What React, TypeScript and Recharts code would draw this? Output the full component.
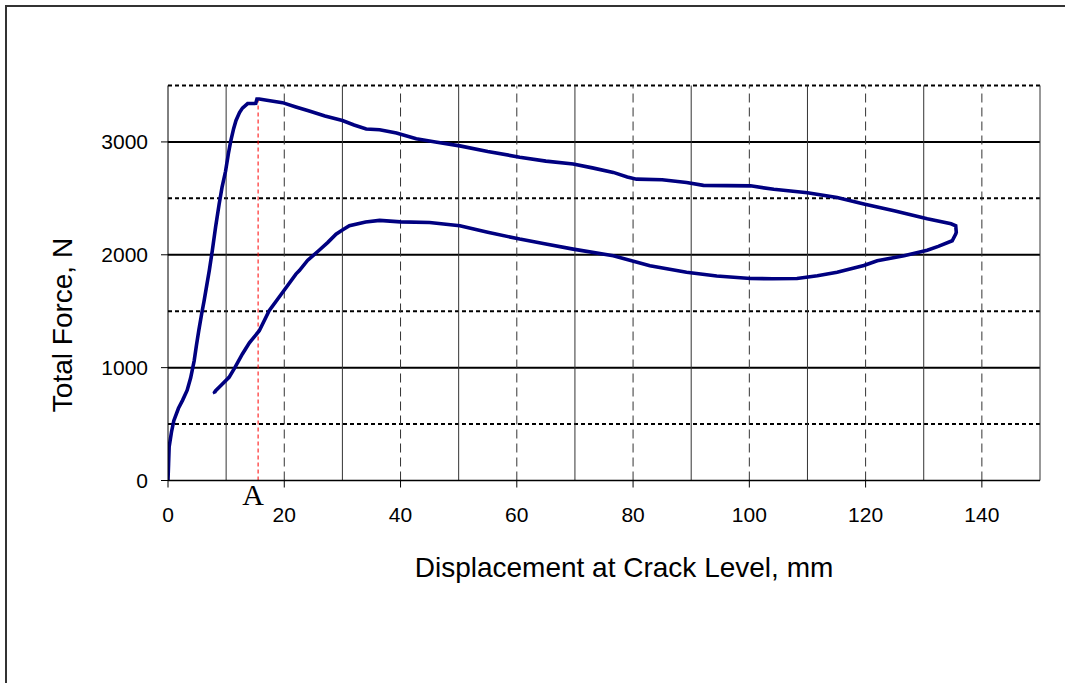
import { LineChart, Line, XAxis, YAxis, ReferenceLine } from 'recharts';

// displacement at crack level (mm) and total force (N), in drawing order (loading, then return branch)
const displacement = [
  0, 0.1, 0.2, 0.6, 1, 1.8, 2.5, 3.3, 3.9, 4.5, 4.9, 5.3, 5.8, 6.2, 6.7, 7.1, 7.6, 8.2, 8.8, 9.3,
  9.9, 10.4, 10.8, 11.3, 11.7, 12.3, 12.8, 13.7, 15.1, 15.3, 15.7, 17, 19.7, 22, 24.3, 27, 30, 32,
  34.1, 36.4, 39.3, 42.7, 46, 50.2, 55, 60.5, 65, 69.7, 73, 76.6, 79, 80.6, 85, 89.2, 92.1, 100.2,
  104.2, 110, 115.1, 119.7, 124.9, 130.6, 134.7, 135.5, 135.6, 135.5, 134.9, 132.5, 130.6, 126.6,
  122, 119.7, 115.1, 111.7, 108.2, 104, 100.2, 94.4, 89.2, 82.9, 76.6, 69.7, 65, 60.5, 55, 50.2,
  45, 40, 36.4, 34, 31.2, 30, 28.9, 27.5, 26, 24, 22.6, 22, 19.7, 17.4, 15.7, 14, 12.8, 11.5, 10.5,
  9.1, 8.2, 8, 8.1,
];
const force = [
  0, 150, 300, 430, 530, 640, 710, 800, 910, 1060, 1200, 1330, 1480, 1590, 1740, 1860, 2030, 2250, 2450, 2600,
  2740, 2900, 3010, 3120, 3190, 3260, 3300, 3340, 3342, 3380, 3380, 3370, 3348, 3310, 3274, 3230, 3190, 3150,
  3115, 3108, 3080, 3028, 3000, 2965, 2915, 2865, 2830, 2805, 2770, 2730, 2690, 2670, 2665, 2640, 2615, 2611,
  2580, 2550, 2507, 2450, 2390, 2320, 2275, 2257, 2200, 2183, 2124, 2075, 2040, 1991,
  1947, 1905, 1845, 1815, 1790, 1788, 1790, 1812, 1845, 1903, 1991, 2050, 2095, 2139, 2200, 2257,
  2286, 2292, 2305, 2290, 2257, 2220, 2183, 2110, 2040, 1950, 1860, 1829, 1666, 1504, 1327, 1220, 1121, 1000, 914,
  841, 796, 780, 770,
];

const xTicks = [0, 20, 40, 60, 80, 100, 120, 140];
const yTicks = [0, 1000, 2000, 3000];
const xSolid = [10, 30, 50, 70, 90, 110, 130, 150];
const xDashed = [20, 40, 60, 80, 100, 120, 140];
const ySolid = [1000, 2000, 3000];
const yDotted = [500, 1500, 2500, 3500];
const pointA = { x: 15.5, y: 3380 };

const data = displacement.map((d, i) => ({ d, f: force[i] }));

const PLOT_LEFT = 168;
const PLOT_W = 872;
const font = 'Arial, "Liberation Sans", sans-serif';

export default function App() {
  return (
    <div style={{ position: 'absolute', left: 0, top: 0, width: 1065, height: 683, background: '#fff' }}>
      <div
        style={{
          position: 'absolute', left: 5, top: 5, width: 1060, height: 678,
          borderTop: '2px solid #333', borderLeft: '2px solid #333',
        }}
      />
      <div style={{ position: 'absolute', left: 0, top: 0 }}>
        <LineChart width={1065} height={683} data={data} margin={{ top: 85.5, right: 25, bottom: 172.5, left: 108 }}>
          <XAxis
            dataKey="d"
            type="number"
            domain={[0, 150]}
            ticks={xTicks}
            allowDataOverflow
            height={30}
            tickSize={7}
            tickMargin={20}
            axisLine={{ stroke: '#000', strokeWidth: 1.5 }}
            tickLine={{ stroke: '#000' }}
            tick={{ fill: '#000', fontSize: 21, fontFamily: font }}
            label={{
              content: () => (
                <text x={624} y={567} textAnchor="middle" dominantBaseline="central" fontSize={28} fontFamily={font} fill="#000">
                  Displacement at Crack Level, mm
                </text>
              ),
            }}
          />
          <YAxis
            dataKey="f"
            type="number"
            domain={[0, 3500]}
            ticks={yTicks}
            allowDataOverflow
            width={60}
            tickSize={7}
            tickMargin={13}
            axisLine={{ stroke: '#000' }}
            tickLine={{ stroke: '#000' }}
            tick={{ fill: '#000', fontSize: 21, fontFamily: font }}
            label={{
              content: () => (
                <text x={62} y={325} transform="rotate(-90, 62, 325)" textAnchor="middle" dominantBaseline="central" fontSize={28} fontFamily={font} fill="#000">
                  Total Force, N
                </text>
              ),
            }}
          />
          {yDotted.map((v) => (
            <ReferenceLine key={'yd' + v} y={v} stroke="#000" strokeWidth={2} strokeDasharray="4 3" />
          ))}
          {ySolid.map((v) => (
            <ReferenceLine key={'ys' + v} y={v} stroke="#000" strokeWidth={2} />
          ))}
          {xDashed.map((v) => (
            <ReferenceLine key={'xd' + v} x={v} stroke="#333" strokeWidth={1} strokeDasharray="9 5" />
          ))}
          {xSolid.map((v) => (
            <ReferenceLine key={'xs' + v} x={v} stroke="#333" strokeWidth={1} />
          ))}
          <ReferenceLine
            segment={[{ x: pointA.x, y: 0 }, { x: pointA.x, y: pointA.y }]}
            stroke="#ff0000"
            strokeWidth={1}
            strokeDasharray="4 3"
            label={{
              content: () => {
                const px = PLOT_LEFT + (pointA.x / 150) * PLOT_W;
                return (
                  <text x={px - 5} y={505} textAnchor="middle" fontSize={30} fontFamily='"Liberation Serif", "Times New Roman", serif' fill="#000">
                    A
                  </text>
                );
              },
            }}
          />
          <Line
            type="linear"
            dataKey="f"
            stroke="#000080"
            strokeWidth={3.6}
            dot={false}
            activeDot={false}
            isAnimationActive={false}
          />
        </LineChart>
      </div>
    </div>
  );
}
